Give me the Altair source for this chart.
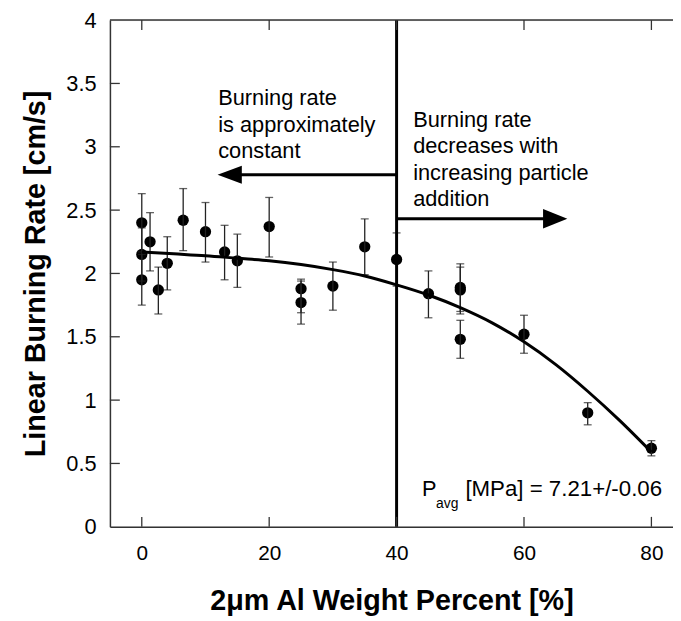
import altair as alt
import pandas as pd

# ---- data ----
pts_x = [0, 0, 0, 1.3, 2.6, 4, 6.5, 10, 13, 15, 20, 25, 25, 30, 35, 40, 45, 50, 50, 50, 60, 70, 80]
pts_y = [2.40, 2.15, 1.95, 2.25, 1.87, 2.08, 2.42, 2.33, 2.17, 2.10, 2.37, 1.88, 1.77, 1.90, 2.21, 2.11, 1.84, 1.89, 1.87, 1.48, 1.52, 0.90, 0.62]
err_hi = [2.63, 2.36, 2.15, 2.48, 2.05, 2.29, 2.67, 2.56, 2.38, 2.31, 2.60, 1.955, 1.94, 2.09, 2.43, 2.32, 2.02, 2.076, 2.05, 1.63, 1.67, 0.98, 0.68]
err_lo = [2.17, 1.94, 1.75, 2.02, 1.68, 1.87, 2.18, 2.09, 1.95, 1.89, 2.13, 1.69, 1.60, 1.71, 1.99, 1.90, 1.65, 1.70, 1.68, 1.33, 1.37, 0.805, 0.56]

fit_x = [0, 5, 10, 15, 20, 25, 30, 35, 40, 45, 50, 55, 60, 65, 70, 75, 80]
fit_y = [2.17, 2.155, 2.14, 2.12, 2.10, 2.07, 2.03, 1.98, 1.91, 1.83, 1.73, 1.61, 1.46, 1.28, 1.07, 0.84, 0.59]

x_ticks = [0, 20, 40, 60, 80]
y_ticks = [0, 0.5, 1, 1.5, 2, 2.5, 3, 3.5, 4]
y_inner_ticks = [0.5, 1, 1.5, 2, 2.5, 3, 3.5]

divider_x = 40
left_arrow = {"x0": 40, "x1": 13.8, "y": 2.779}
right_arrow = {"x0": 40, "x1": 64.9, "y": 2.432}

left_text = ["Burning rate", "is approximately", "constant"]
right_text = ["Burning rate", "decreases with", "increasing particle", "addition"]
left_text_pos = (12.0, 3.326)
right_text_pos = (42.6, 3.156)

p_main = "P"
p_sub = "avg"
p_rest = "[MPa] = 7.21+/-0.06"

x_title = "2\u03bcm Al Weight Percent [%]"
y_title = "Linear Burning Rate [cm/s]"

W, H = 569, 512
FONT = "Liberation Sans"

xs = alt.Scale(domain=[-5, 83.39], nice=False, zero=False)
ys = alt.Scale(domain=[0, 4], nice=False, zero=False)

pts = pd.DataFrame({"x": pts_x, "y": pts_y, "lo": err_lo, "hi": err_hi})
fit = pd.DataFrame({"x": fit_x, "y": fit_y})

X = alt.X("x:Q", scale=xs, axis=alt.Axis(
    values=x_ticks, format="d", title=x_title, grid=False, ticks=False, tickSize=0,
    labelFontSize=21, labelPadding=16, labelColor="black", labelFont=FONT,
    domainColor="#333", domainWidth=1.5,
    titleFontSize=29, titleFont=FONT, titleFontWeight="bold", titleColor="black",
    titlePadding=24))
Y = alt.Y("y:Q", scale=ys, axis=alt.Axis(
    values=y_ticks, format="~g", title=y_title, grid=False, ticks=False, tickSize=0,
    labelFontSize=22, labelPadding=14, labelColor="black", labelFont=FONT,
    domainColor="#333", domainWidth=1.5,
    titleFontSize=29, titleFont=FONT, titleFontWeight="bold", titleColor="black",
    titlePadding=16))

base = alt.Chart(pts)

errbars = base.mark_rule(color="#222", strokeWidth=1.3).encode(
    x=X, y=alt.Y("lo:Q", scale=ys), y2="hi:Q")
cap_hi = base.mark_tick(color="#222", orient="horizontal", size=8, thickness=1.3).encode(
    x=alt.X("x:Q", scale=xs), y=alt.Y("hi:Q", scale=ys))
cap_lo = base.mark_tick(color="#222", orient="horizontal", size=8, thickness=1.3).encode(
    x=alt.X("x:Q", scale=xs), y=alt.Y("lo:Q", scale=ys))
points = base.mark_circle(color="black", size=130, opacity=1).encode(
    x=alt.X("x:Q", scale=xs), y=Y)

fit_line = alt.Chart(fit).mark_line(color="black", strokeWidth=3, interpolate="monotone").encode(
    x=alt.X("x:Q", scale=xs), y=alt.Y("y:Q", scale=ys))

vline = alt.Chart(pd.DataFrame({"x": [divider_x]})).mark_rule(color="black", strokeWidth=3).encode(
    x=alt.X("x:Q", scale=xs), y=alt.value(0), y2=alt.value(H))

arrows = pd.DataFrame({
    "x0": [left_arrow["x0"], right_arrow["x0"]],
    "x1": [left_arrow["x1"], right_arrow["x1"]],
    "y": [left_arrow["y"], right_arrow["y"]],
    "dir": ["left", "right"]})
shafts = alt.Chart(arrows).mark_rule(color="black", strokeWidth=3).encode(
    x=alt.X("x0:Q", scale=xs), x2="x1:Q", y=alt.Y("y:Q", scale=ys))
head_l = alt.Chart(arrows[arrows.dir == "left"]).mark_point(
    shape="M1,-0.75L-1,0L1,0.75Z", filled=True, color="black", size=600, opacity=1, strokeWidth=0).encode(
    x=alt.X("x1:Q", scale=xs), y=alt.Y("y:Q", scale=ys))
head_r = alt.Chart(arrows[arrows.dir == "right"]).mark_point(
    shape="M-1,-0.8L1,0L-1,0.8Z", filled=True, color="black", size=600, opacity=1, strokeWidth=0).encode(
    x=alt.X("x1:Q", scale=xs), y=alt.Y("y:Q", scale=ys))

txt = pd.DataFrame({"x": [left_text_pos[0], right_text_pos[0]],
                    "y": [left_text_pos[1], right_text_pos[1]],
                    "t": [left_text, right_text]})
notes = alt.Chart(txt).mark_text(align="left", baseline="alphabetic", font=FONT, fontSize=22,
                                 lineHeight=26.7, color="black").encode(
    x=alt.X("x:Q", scale=xs), y=alt.Y("y:Q", scale=ys), text="t")

pav = pd.DataFrame({"x": [44.0, 46.2, 50.8], "y": [0.242, 0.148, 0.242],
                    "t": [p_main, p_sub, p_rest], "fs": [22, 14, 22.5]})
pav_text = alt.Chart(pav).mark_text(align="left", baseline="alphabetic", font=FONT, color="black").encode(
    x=alt.X("x:Q", scale=xs), y=alt.Y("y:Q", scale=ys), text="t",
    size=alt.Size("fs:Q", scale=None, legend=None))

frame_top = alt.Chart(pd.DataFrame({"a": [0]})).mark_rule(color="#333", strokeWidth=1.5).encode(
    x=alt.value(0), x2=alt.value(W), y=alt.value(0))

xt = pd.DataFrame({"x": x_ticks})
ticks_bottom = alt.Chart(xt).mark_rule(color="#333", strokeWidth=1.3).encode(
    x=alt.X("x:Q", scale=xs), y=alt.value(H), y2=alt.value(H - 10))
ticks_top = alt.Chart(xt).mark_rule(color="#333", strokeWidth=1.3).encode(
    x=alt.X("x:Q", scale=xs), y=alt.value(0), y2=alt.value(10))
yt = pd.DataFrame({"y": y_inner_ticks})
ticks_left = alt.Chart(yt).mark_rule(color="#333", strokeWidth=1.3).encode(
    y=alt.Y("y:Q", scale=ys), x=alt.value(0), x2=alt.value(10))

chart = alt.layer(
    points, errbars, cap_hi, cap_lo, fit_line, vline, shafts, head_l, head_r,
    notes, pav_text, frame_top, ticks_bottom, ticks_top, ticks_left
).properties(
    width=W, height=H,
    autosize=alt.AutoSizeParams(type="none"),
    padding={"left": 103, "top": 9, "right": 0, "bottom": 95},
).configure_view(stroke=None).configure(background="white")

chart.save("out.html", embed_options={"renderer": "svg", "actions": False})
